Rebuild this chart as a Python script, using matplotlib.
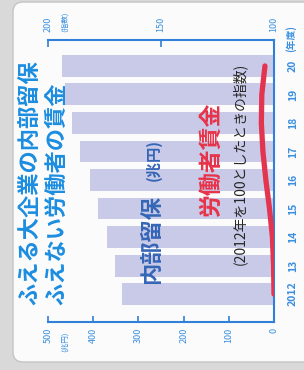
import matplotlib
matplotlib.use("Agg")

import matplotlib.pyplot as plt
from matplotlib.patches import FancyBboxPatch

plt.rcParams['font.family'] = ['Noto Sans CJK JP', 'DejaVu Sans']

years = ["2012", "13", "14", "15", "16", "17", "18", "19", "20"]
reserves = [336, 352, 369, 389, 407, 429, 447, 463, 469]          # 内部留保 (兆円)
wage_index = [100, 100.2, 100.7, 102.0, 103.6, 104.9, 105.6, 105.4, 104.0]  # 2012=100
yen_ticks = [0, 100, 200, 300, 400, 500]
index_ticks = [100, 150, 200]

W, H = 304, 370
BLUE = "#2f80d6"
LBLUE = "#3a8fe0"

fig = plt.figure(figsize=(W / 100, H / 100), dpi=100, facecolor="#d9d9d9")

def fx(px):
    return px / W

def fy(py):
    return 1 - py / H

# the paper card
card = FancyBboxPatch((0.13, 0.08), 3.3, 3.6,
                      boxstyle="round,pad=0,rounding_size=0.1",
                      transform=fig.dpi_scale_trans,
                      fc="#fbfbfb", ec="#c4c4c4", lw=1.0, zorder=0)
fig.add_artist(card)

ax = fig.add_axes([fx(48), fy(322), fx(274) - fx(48), (322 - 40) / H])
ax.set_facecolor("none")
pos = list(range(len(years)))
ax.barh(pos, reserves, height=0.77, color="#c9cae8", zorder=1)
ax.set_xlim(500, 0)
ax.set_ylim(-0.98, 8.91)

ax.spines["left"].set_visible(False)
for s in ("bottom", "right", "top"):
    ax.spines[s].set_color(BLUE)
    ax.spines[s].set_linewidth(1.5)

ax.set_xticks(yen_ticks)
ax.set_xticklabels([str(t) for t in yen_ticks], rotation=90,
                   fontsize=6.5, color=LBLUE)
ax.tick_params(axis="x", direction="in", length=4, width=1.2,
               color=BLUE, pad=4)

ax.yaxis.tick_right()
ax.set_yticks(pos)
ax.set_yticklabels(years, rotation=90, fontsize=7.5, color=LBLUE,
                   fontweight="bold", va="center")
ax.tick_params(axis="y", length=0, pad=10)

# wage index on the second scale
ax2 = ax.twiny()
ax2.set_xlim(200, 100)
ax2.plot(wage_index, pos, color="#e3354f", lw=3.8,
         solid_capstyle="round", solid_joinstyle="round", zorder=3)
for s in ax2.spines.values():
    s.set_visible(False)
ax2.set_xticks(index_ticks)
ax2.set_xticklabels([str(t) for t in index_ticks], rotation=90,
                    fontsize=6.5, color=LBLUE)
ax2.tick_params(axis="x", direction="in", length=5, width=1.2,
                color=BLUE, pad=6)

# unit labels
fig.text(fx(65), fy(332), "(兆円)", rotation=90, ha="center", va="top",
         fontsize=5.5, color=LBLUE)
fig.text(fx(65), fy(32), "(指数)", rotation=90, ha="center", va="bottom",
         fontsize=5.5, color=LBLUE)
fig.text(fx(291), fy(52), "(年度)", rotation=90, ha="center", va="bottom",
         fontsize=7, color=LBLUE, fontweight="bold")

# titles
fig.text(fx(30), fy(305), "ふえる大企業の内部留保", rotation=90,
         ha="center", va="bottom", fontsize=16, fontweight="bold",
         color="#1c8de0")
fig.text(fx(57), fy(305), "ふえない労働者の賃金", rotation=90,
         ha="center", va="bottom", fontsize=16, fontweight="bold",
         color="#1c8de0")

# in-chart labels
fig.text(fx(152), fy(284), "内部留保", rotation=90, ha="center",
         va="bottom", fontsize=16, fontweight="bold", color="#3566b6")
fig.text(fx(154), fy(181), "(兆円)", rotation=90, ha="center",
         va="bottom", fontsize=11, fontweight="bold", color="#3566b6")
fig.text(fx(211), fy(217), "労働者賃金", rotation=90, ha="center",
         va="bottom", fontsize=16.5, fontweight="bold", color="#e8334a")
fig.text(fx(239), fy(265), "(2012年を100としたときの指数)", rotation=90,
         ha="center", va="bottom", fontsize=10, color="#262626")

fig.savefig("out.png", dpi=100, facecolor=fig.get_facecolor())
